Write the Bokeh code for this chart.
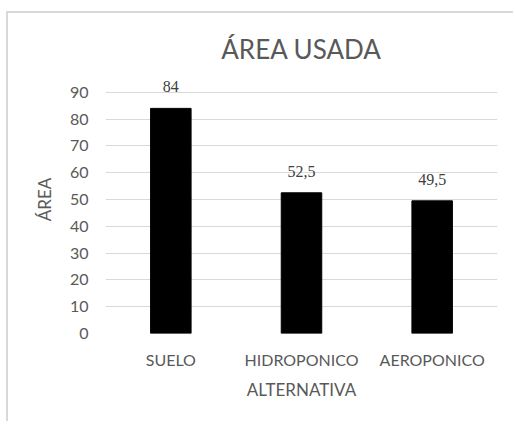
from bokeh.plotting import figure
from bokeh.models import ColumnDataSource, LabelSet, Title
from bokeh.embed import file_html
from bokeh.resources import INLINE

categories = ["SUELO", "HIDROPONICO", "AEROPONICO"]
values = [84, 52.5, 49.5]
labels = ["84", "52,5", "49,5"]
y_ticks = [0, 10, 20, 30, 40, 50, 60, 70, 80, 90]

FONT = "Lato"
GRAY = "#595959"

source = ColumnDataSource(dict(cat=categories, val=values, lab=labels))

p = figure(x_range=categories, y_range=(0, 100), width=507, height=410,
           output_backend="svg", toolbar_location=None,
           min_border_left=97, min_border_right=18, min_border_top=52, min_border_bottom=90,
           styles={"border-left": "2px solid #d9d9d9", "border-top": "2px solid #d9d9d9",
                   "margin-left": "6px", "margin-top": "11px"})

p.vbar(x="cat", top="val", width=0.31, source=source, color="black")

p.add_layout(LabelSet(x="cat", y="val", text="lab", source=source, text_align="center",
                      text_baseline="bottom", y_offset=16, text_font=FONT,
                      text_font_size="16px", text_color="#404040"))

p.title = Title(text="ÁREA USADA", align="center", text_font=FONT, text_font_size="26px",
                text_font_style="normal", text_color=GRAY, standoff=2)

p.outline_line_color = None
p.xgrid.grid_line_color = None
p.ygrid.grid_line_color = "#d9d9d9"
p.yaxis.ticker = y_ticks

for ax in (p.xaxis, p.yaxis):
    ax.axis_line_color = None
    ax.major_tick_line_color = None
    ax.minor_tick_line_color = None
    ax.major_tick_out = 0
    ax.major_tick_in = 0
    ax.major_label_text_font = FONT
    ax.major_label_text_font_size = "16px"
    ax.major_label_text_color = GRAY
    ax.axis_label_text_font = FONT
    ax.axis_label_text_font_size = "17px"
    ax.axis_label_text_color = GRAY
    ax.axis_label_text_font_style = "normal"

p.yaxis.axis_label = "ÁREA"
p.xaxis.axis_label = "ALTERNATIVA"
p.yaxis.major_label_standoff = 17
p.yaxis.axis_label_standoff = 12
p.xaxis.major_label_standoff = 16
p.xaxis.axis_label_standoff = 7

open("out.html", "w").write(file_html(p, INLINE))
